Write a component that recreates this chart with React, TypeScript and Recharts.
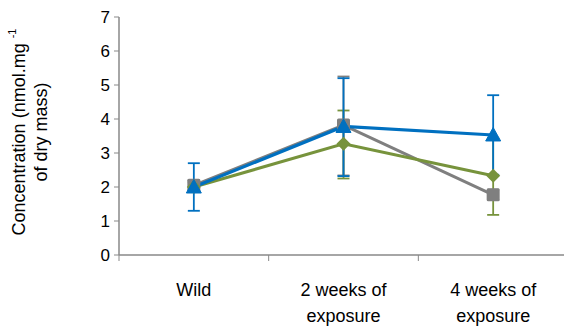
import React from 'react';
import { LineChart, Line, XAxis, YAxis, ErrorBar, Label } from 'recharts';

const categories = ['Wild', '2 weeks of exposure', '4 weeks of exposure'];
const categoryLines = [['Wild'], ['2 weeks of', 'exposure'], ['4 weeks of', 'exposure']];
const categoryPositions = [0.5, 1.5, 2.5];
const boundaryTicks = [0, 1, 2, 3];
const yTicks = [0, 1, 2, 3, 4, 5, 6, 7];

const grayValues = [2.05, 3.82, 1.77];
const grayErrors = [[0.15, 0.15], [1.48, 1.43], [0.15, 0.15]];
const greenValues = [2.0, 3.27, 2.33];
const greenErrors = [[0.15, 0.15], [1.02, 0.98], [1.15, 1.1]];
const blueValues = [2.0, 3.78, 3.53];
const blueErrors = [[0.7, 0.7], [1.46, 1.42], [1.17, 1.17]];

const data = categories.map((name, i) => ({
  name,
  x: categoryPositions[i],
  gray: grayValues[i],
  grayErr: grayErrors[i],
  green: greenValues[i],
  greenErr: greenErrors[i],
  blue: blueValues[i],
  blueErr: blueErrors[i],
}));

const GRAY = '#7F7F7F';
const GREEN = '#77933C';
const BLUE = '#0070C0';
const AXIS = '#898989';
const FONT = '"Liberation Sans", Arial, sans-serif';

const SquareDot = (props: any) => {
  const { cx, cy, index } = props;
  if (cx == null || cy == null) return <g key={`s${index}`} />;
  return <rect key={`s${index}`} x={cx - 6.5} y={cy - 6.5} width={13} height={13} rx={1.5} fill={GRAY} />;
};
const DiamondDot = (props: any) => {
  const { cx, cy, index } = props;
  if (cx == null || cy == null) return <g key={`d${index}`} />;
  const r = 7;
  return <path key={`d${index}`} d={`M${cx},${cy - r}L${cx + r},${cy}L${cx},${cy + r}L${cx - r},${cy}Z`} fill={GREEN} />;
};
const TriangleDot = (props: any) => {
  const { cx, cy, index } = props;
  if (cx == null || cy == null) return <g key={`t${index}`} />;
  return <path key={`t${index}`} d={`M${cx},${cy - 7.5}L${cx + 7.5},${cy + 6}L${cx - 7.5},${cy + 6}Z`} fill={BLUE} stroke={BLUE} strokeLinejoin="round" strokeWidth={1} />;
};

const XTick = (props: any) => {
  const { x, y, payload } = props;
  const v = payload.value;
  const idx = categoryPositions.indexOf(v);
  if (idx < 0) {
    return <line x1={x} y1={y} x2={x} y2={y + 6} stroke={AXIS} strokeWidth={1} />;
  }
  const lines = categoryLines[idx];
  return (
    <g>
      {lines.map((ln, k) => (
        <text key={k} x={x} y={y + 35 + k * 26} textAnchor="middle" dominantBaseline="central" fontSize={18} fontFamily={FONT} fill="#000">
          {ln}
        </text>
      ))}
    </g>
  );
};

const YLabel = (props: any) => {
  const cy = 132;
  const x1 = 19;
  const x2 = 41;
  return (
    <g>
      <text transform={`rotate(-90, ${x1}, ${cy})`} x={x1} y={cy} textAnchor="middle" dominantBaseline="central" fontSize={18} fontFamily={FONT} fill="#000">
        <tspan>Concentration (nmol.mg </tspan>
        <tspan fontSize={11} dy={-7}>-1</tspan>
      </text>
      <text transform={`rotate(-90, ${x2}, ${cy})`} x={x2} y={cy} textAnchor="middle" dominantBaseline="central" fontSize={18} fontFamily={FONT} fill="#000">
        of dry mass)
      </text>
    </g>
  );
};

const W = 568;
const H = 327;
const MARGIN = { top: 17, right: 0, left: 0, bottom: 0 };
const xTicks = [...boundaryTicks, ...categoryPositions].sort((a, b) => a - b);
const CAP = 6;

function BaseChart() {
  return (
    <LineChart width={W} height={H} data={data} margin={MARGIN}>
      <XAxis
        dataKey="x"
        type="number"
        domain={[0, 3]}
        ticks={xTicks}
        interval={0}
        height={72}
        axisLine={{ stroke: AXIS, strokeWidth: 1.5 }}
        tickLine={false}
        tickSize={0}
        tickMargin={0}
        tick={<XTick />}
      />
      <YAxis
        width={119}
        domain={[0, 7]}
        ticks={yTicks}
        interval={0}
        axisLine={{ stroke: AXIS, strokeWidth: 1.5 }}
        tickLine={{ stroke: AXIS }}
        tickSize={5}
        tickMargin={4}
        tick={{ fontSize: 17, fontFamily: FONT, fill: '#000' }}
      >
        <Label content={<YLabel />} />
      </YAxis>
      <Line type="linear" dataKey="gray" stroke="none" dot={false} activeDot={false} isAnimationActive={false}>
        <ErrorBar dataKey="grayErr" direction="y" width={CAP} stroke={GRAY} strokeWidth={1.8} />
      </Line>
      <Line type="linear" dataKey="green" stroke="none" dot={false} activeDot={false} isAnimationActive={false}>
        <ErrorBar dataKey="greenErr" direction="y" width={CAP} stroke={GREEN} strokeWidth={1.8} />
      </Line>
      <Line type="linear" dataKey="blue" stroke="none" dot={false} activeDot={false} isAnimationActive={false}>
        <ErrorBar dataKey="blueErr" direction="y" width={CAP} stroke={BLUE} strokeWidth={1.8} />
      </Line>
    </LineChart>
  );
}

function SeriesChart() {
  return (
    <LineChart width={W} height={H} data={data} margin={MARGIN}>
      <XAxis dataKey="x" type="number" domain={[0, 3]} ticks={xTicks} height={72} axisLine={false} tickLine={false} tick={false} />
      <YAxis width={119} domain={[0, 7]} ticks={yTicks} axisLine={false} tickLine={false} tick={false} />
      <Line type="linear" dataKey="gray" stroke={GRAY} strokeWidth={3} dot={SquareDot} activeDot={false} isAnimationActive={false} />
      <Line type="linear" dataKey="green" stroke={GREEN} strokeWidth={3} dot={DiamondDot} activeDot={false} isAnimationActive={false} />
      <Line type="linear" dataKey="blue" stroke={BLUE} strokeWidth={3.2} dot={TriangleDot} activeDot={false} isAnimationActive={false} />
    </LineChart>
  );
}

export default function App() {
  return (
    <div style={{ position: 'absolute', left: 0, top: 0, width: 564, height: 327, overflow: 'hidden', background: '#fff' }}>
      <div style={{ position: 'absolute', left: 0, top: 0 }}>
        <BaseChart />
      </div>
      <div style={{ position: 'absolute', left: 0, top: 0 }}>
        <SeriesChart />
      </div>
    </div>
  );
}
